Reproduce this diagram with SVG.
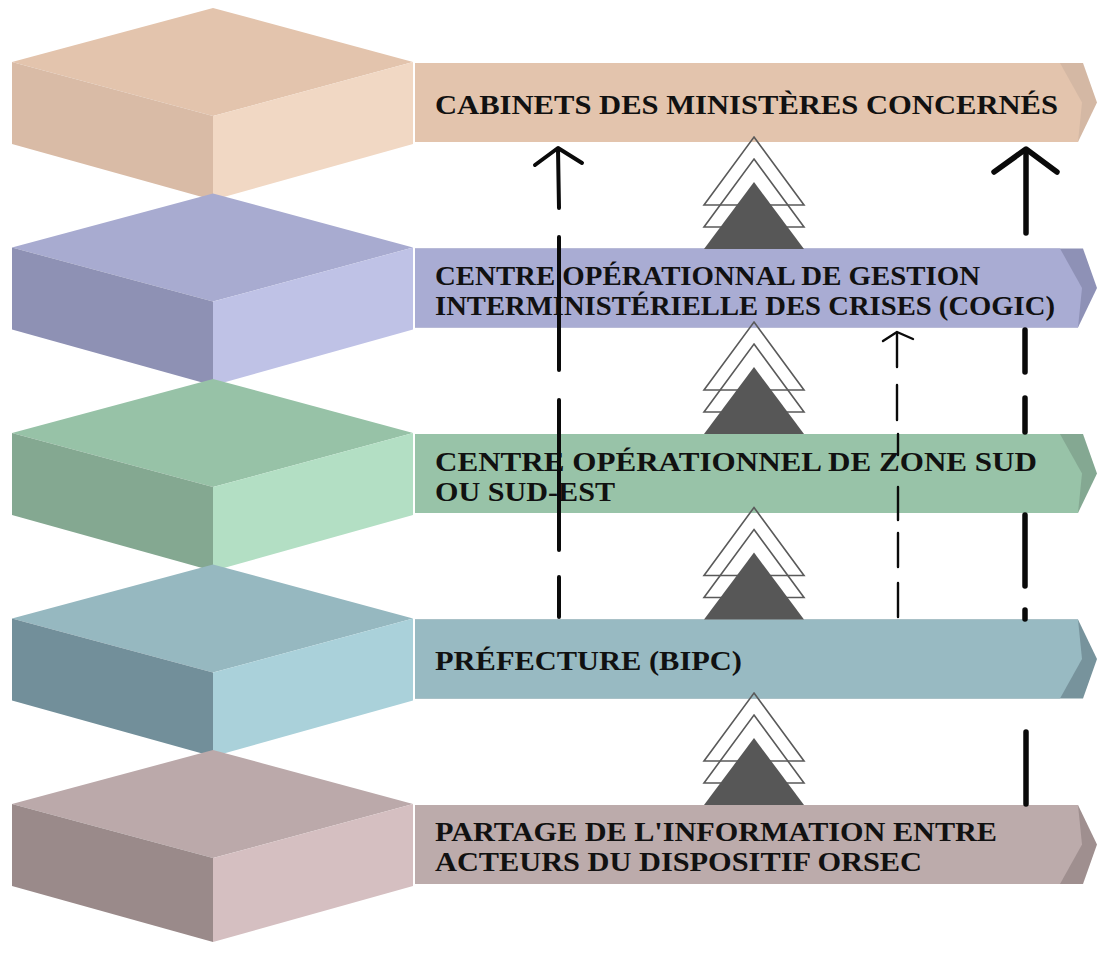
<svg xmlns="http://www.w3.org/2000/svg" width="1097" height="953" viewBox="0 0 1097 953">
<style>
.t{font-family:"Liberation Serif","DejaVu Serif",serif;font-weight:bold;font-size:27px;fill:#111111}
.ol{fill:none;stroke:#5a5a5a;stroke-width:1.6;stroke-linejoin:miter}
.fl{fill:#575757}
.a{fill:none;stroke:#0a0a0a;stroke-linecap:round;stroke-linejoin:round}
</style>
<rect width="1097" height="953" fill="#ffffff"/>
<g id="node1">
<polygon points="213,8 413,62 213,116 12,62" fill="#e3c4ad"/>
<polygon points="12,62 213,116 213,200 12,144" fill="#d9bba6"/>
<polygon points="213,116 413,62 413,144 213,200" fill="#f1d8c4"/>
<polygon points="415,63 1083,63 1097,102.5 1078,142 415,142" fill="#d4b8a4"/>
<polygon points="415,63 1060,63 1082,102.5 1078,142 415,142" fill="#e3c4ad"/>
<text class="t" x="435" y="114" textLength="623" lengthAdjust="spacingAndGlyphs">CABINETS DES MINISTÈRES CONCERNÉS</text>
</g>
<g id="node2">
<polygon points="213,193.5 413,247.5 213,301.5 12,247.5" fill="#a8abd0"/>
<polygon points="12,247.5 213,301.5 213,385.5 12,329.5" fill="#8e91b4"/>
<polygon points="213,301.5 413,247.5 413,329.5 213,385.5" fill="#bfc2e6"/>
<polygon points="415,248.5 1083,248.5 1097,288 1078,327.5 415,327.5" fill="#8e91b6"/>
<polygon points="415,248.5 1060,248.5 1082,288 1078,327.5 415,327.5" fill="#a9acd3"/>
<text class="t" x="435" y="285" textLength="545" lengthAdjust="spacingAndGlyphs">CENTRE OPÉRATIONNAL DE GESTION</text>
<text class="t" x="435" y="315" textLength="620" lengthAdjust="spacingAndGlyphs">INTERMINISTÉRIELLE DES CRISES (COGIC)</text>
</g>
<g id="node3">
<polygon points="213,379 413,433 213,487 12,433" fill="#97c2a7"/>
<polygon points="12,433 213,487 213,571 12,515" fill="#84a891"/>
<polygon points="213,487 413,433 413,515 213,571" fill="#b3dfc4"/>
<polygon points="415,434 1083,434 1097,473.5 1078,513 415,513" fill="#84a892"/>
<polygon points="415,434 1060,434 1082,473.5 1078,513 415,513" fill="#98c3a8"/>
<text class="t" x="435" y="471" textLength="602" lengthAdjust="spacingAndGlyphs">CENTRE OPÉRATIONNEL DE ZONE SUD</text>
<text class="t" x="435" y="501" textLength="180" lengthAdjust="spacingAndGlyphs">OU SUD-EST</text>
</g>
<g id="node4">
<polygon points="213,564.5 413,618.5 213,672.5 12,618.5" fill="#96b8c0"/>
<polygon points="12,618.5 213,672.5 213,756.5 12,700.5" fill="#728f9a"/>
<polygon points="213,672.5 413,618.5 413,700.5 213,756.5" fill="#aad1da"/>
<polygon points="415,619.5 1078,619.5 1097,659 1083,698.5 415,698.5" fill="#77939c"/>
<polygon points="415,619.5 1078,619.5 1082,659 1060,698.5 415,698.5" fill="#98bac2"/>
<text class="t" x="435" y="670" textLength="307" lengthAdjust="spacingAndGlyphs">PRÉFECTURE (BIPC)</text>
</g>
<g id="node5">
<polygon points="213,750 413,804 213,858 12,804" fill="#bba9aa"/>
<polygon points="12,804 213,858 213,942 12,886" fill="#9a8a8a"/>
<polygon points="213,858 413,804 413,886 213,942" fill="#d5bfc1"/>
<polygon points="415,805 1078,805 1097,844.5 1083,884 415,884" fill="#9f8f8f"/>
<polygon points="415,805 1078,805 1082,844.5 1060,884 415,884" fill="#bcabab"/>
<text class="t" x="435" y="841" textLength="562" lengthAdjust="spacingAndGlyphs">PARTAGE DE L'INFORMATION ENTRE</text>
<text class="t" x="435" y="871" textLength="487" lengthAdjust="spacingAndGlyphs">ACTEURS DU DISPOSITIF ORSEC</text>
</g>
<g id="connectors">
<g id="stack1">
<polygon class="ol" points="754,137 804,205 704,205"/>
<polygon class="ol" points="754,159 804,227 704,227"/>
<polygon class="fl" points="754,182 804,249 704,249"/>
</g>
<g id="stack2">
<polygon class="ol" points="754,322 804,390 704,390"/>
<polygon class="ol" points="754,344 804,412 704,412"/>
<polygon class="fl" points="754,367 804,434 704,434"/>
</g>
<g id="stack3">
<polygon class="ol" points="754,507.5 804,575.5 704,575.5"/>
<polygon class="ol" points="754,529.5 804,597.5 704,597.5"/>
<polygon class="fl" points="754,552.5 804,619.5 704,619.5"/>
</g>
<g id="stack4">
<polygon class="ol" points="754,693 804,761 704,761"/>
<polygon class="ol" points="754,715 804,783 704,783"/>
<polygon class="fl" points="754,738 804,805 704,805"/>
</g>
<g id="arrowA" class="a" stroke-width="4">
<polyline points="535,165 558,148 582,163"/>
<path d="M558,149 L559,208 M559,237 L559,370 M559,400 L559,550 M559,577 L559,617"/>
</g>
<g id="arrowB" class="a" stroke-width="2.4">
<polyline points="883,341 897,332 913,339"/>
<path d="M897,333 L897,367 M897,385 L897,420 M898,434 L898,455 M898,487 L898,520 M898,533 L898,567 M898,583 L898,617"/>
</g>
<g id="arrowC" class="a" stroke-width="5.5">
<polyline points="994,172 1026,149 1057,172"/>
<path d="M1026,150 L1026,233 M1025,330 L1025,372 M1025,398 L1025,432 M1025,515 L1025,586 M1025,610 L1025,619 M1026,732 L1026,804"/>
</g>
</g>
</svg>
